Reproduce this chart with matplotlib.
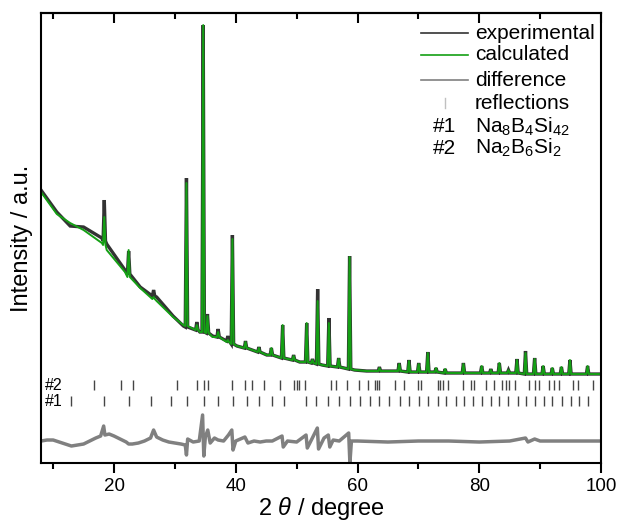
import numpy as np
import matplotlib.pyplot as plt
from matplotlib.ticker import MultipleLocator

plt.rcParams['font.family'] = ['Liberation Sans', 'DejaVu Sans']
plt.rcParams['mathtext.fontset'] = 'custom'
plt.rcParams['mathtext.rm'] = 'Liberation Sans'
plt.rcParams['mathtext.it'] = 'Liberation Sans:italic'

# background knots (2 theta, intensity)
bg_x = [8, 10.6, 12.8, 15.0, 18.0, 18.8, 21.8, 24.3, 27.0, 29.7, 31.4, 34.1,
        36.2, 40.2, 45.1, 50.5, 54.2, 59.5, 61.5, 70.8, 80, 100]
calc_bg = [271, 249, 240, 233, 220, 213, 191, 175, 162, 146, 138, 131,
           126, 117, 108, 101, 98, 93, 92, 91, 90, 89]
obs_bg = [273, 251, 237, 236, 225, 219, 193, 176, 166, 147, 137, 131,
          127, 117, 108, 101, 98, 93, 92, 91, 90, 89]

# peaks: position, base (calc / obs), top (calc / obs)
peak_pos = [18.4, 22.4, 26.5, 31.9, 33.6, 34.65, 35.35, 37.1, 38.7, 39.45,
            41.6, 43.8, 45.85, 47.7, 49.5, 51.65, 52.6, 53.45, 55.3, 56.9,
            58.7, 63.6, 66.85, 68.45, 70.05, 71.55, 72.9, 74.4, 77.4, 80.4,
            81.9, 83.3, 84.8, 86.2, 87.6, 89.1, 90.5, 92.0, 93.5, 94.9, 97.8]
calc_base = [218, 186, 164, 137, 133, 131, 130, 126, 121, 119,
             115, 111, 108, 105, 103, 101, 100, 99, 97, 96,
             94, 92, 92, 91, 91, 91, 91, 90, 90, 90,
             90, 90, 90, 90, 89, 89, 89, 89, 89, 89, 89]
obs_base = [222, 189, 167, 136, 133, 131, 130, 126, 122, 119,
            115, 111, 108, 105, 103, 101, 100, 99, 97, 96,
            94, 92, 92, 91, 91, 91, 91, 90, 90, 90,
            90, 90, 90, 90, 89, 89, 89, 89, 89, 89, 89]
calc_top = [246, 213, 166, 280, 138, 438, 147, 131, 123, 224,
            121, 115, 115, 138, 107, 140, 103, 162, 140, 104,
            206, 95, 99, 102, 99, 110, 95, 94, 99, 97,
            93, 100, 93, 103, 110, 104, 97, 95, 96, 103, 97]
obs_top = [263, 212, 173, 285, 141, 438, 149, 134, 127, 228,
           122, 116, 115, 138, 108, 140, 104, 174, 145, 105,
           207, 96, 100, 103, 100, 111, 95, 94, 100, 97,
           94, 100, 93, 104, 112, 105, 97, 95, 96, 103, 97]
peak_hw = 0.2

# difference curve
diff_x = [8, 9, 10, 11, 12, 13, 14, 15, 16, 17,
          17.8, 18.3, 18.5, 19.2, 20, 21, 22, 22.4, 23, 24,
          25, 26, 26.5, 27, 28, 29, 30, 31, 31.7, 31.9,
          32.1, 33, 34, 34.55, 34.75, 35.0, 35.4, 35.8, 36.5, 37.1,
          38, 38.8, 39.35, 39.55, 40, 41.5, 42, 43, 44, 45,
          46, 47.6, 47.8, 48.5, 50, 51.55, 51.75, 52.5, 53.4, 53.6,
          54.5, 55.2, 55.45, 56, 57, 58.55, 58.75, 59, 60, 65,
          70, 75, 80, 85, 87.6, 88, 89.1, 90, 95, 100]
diff_y = [22, 23, 23, 21, 19, 17, 18, 19, 22, 25,
          27, 37, 28, 29, 27, 24, 21, 19, 19, 20,
          22, 25, 33, 26, 23, 21, 20, 19, 18, 8,
          24, 21, 22, 48, 7, 26, 33, 20, 25, 23,
          22, 28, 33, 13, 22, 26, 20, 22, 21, 22,
          22, 27, 16, 22, 21, 28, 15, 24, 35, 14,
          25, 28, 16, 23, 22, 30, 0, 22, 22, 21,
          22, 22, 21, 22, 25, 21, 24, 22, 22, 22]

# reflection positions
refl_1 = [12.95, 18.4, 22.5, 26.1, 29.3, 32.0, 34.7, 37.15, 39.55, 41.8, 43.8,
          45.9, 47.9, 51.6, 53.2, 55.1, 56.9, 58.7, 60.4, 62.0, 63.6, 65.2,
          66.9, 68.4, 70.1, 71.5, 73.2, 74.5, 76.2, 77.5, 79.0, 80.4, 81.9,
          83.3, 84.8, 86.3, 87.7, 89.2, 90.7, 92.0, 93.6, 95.0, 96.4, 97.8]
refl_2 = [16.7, 21.1, 23.1, 30.3, 33.6, 34.7, 35.4, 39.45, 41.5, 42.7, 44.6,
          47.2, 49.5, 50.0, 50.4, 51.4, 55.6, 56.5, 58.2, 60.2, 61.7, 62.8,
          63.2, 63.6, 66.1, 67.7, 69.9, 70.4, 73.2, 73.5, 74.0, 74.8, 77.3,
          78.6, 79.2, 81.1, 82.5, 83.8, 84.4, 84.9, 85.9, 88.2, 89.2, 89.8,
          91.4, 92.3, 93.1, 95.4, 96.3, 98.7]

legend_labels = ['experimental', 'calculated', 'difference', 'reflections']
legend_colors = ['#333333', '#14a014', '#808080', '#c0c0c0']
phases = [('#1', r'Na$_8$B$_4$Si$_{42}$'), ('#2', r'Na$_2$B$_6$Si$_2$')]


def profile(bg, base, top):
    xs = list(bg_x)
    ys = list(bg)
    for p, b, t in zip(peak_pos, base, top):
        xs += [p - peak_hw, p, p + peak_hw]
        ys += [b, t, b]
    order = np.argsort(xs, kind='stable')
    return np.array(xs)[order], np.array(ys)[order]


obs_x, obs_y = profile(obs_bg, obs_base, obs_top)
calc_x, calc_y = profile(calc_bg, calc_base, calc_top)

fig = plt.figure(figsize=(6.19, 5.22), dpi=100)
ax = fig.add_axes([0.0662, 0.113, 0.9047, 0.862])

ax.plot(obs_x, obs_y, color='#333333', lw=2.4, solid_joinstyle='miter')
ax.plot(calc_x, calc_y, color='#14a014', lw=1.4)
ax.plot(diff_x, diff_y, color='#808080', lw=2.5)
ax.vlines(refl_2, 73, 83, color='#454545', lw=1.0)
ax.vlines(refl_1, 57, 67, color='#454545', lw=1.0)
ax.text(8.6, 78, '#2', fontsize=11.5, va='center', ha='left')
ax.text(8.6, 62, '#1', fontsize=11.5, va='center', ha='left')

ax.set_xlim(8, 100)
ax.set_ylim(0, 450)
ax.xaxis.set_major_locator(MultipleLocator(20))
ax.xaxis.set_minor_locator(MultipleLocator(10))
ax.set_yticks([])
ax.tick_params(axis='x', which='both', direction='out', width=1.5, labelsize=13.5)
ax.tick_params(axis='x', which='major', length=7)
ax.tick_params(axis='x', which='minor', length=4)
for s in ax.spines.values():
    s.set_linewidth(1.5)

top = ax.secondary_xaxis('top')
top.xaxis.set_major_locator(MultipleLocator(20))
top.xaxis.set_minor_locator(MultipleLocator(10))
top.tick_params(axis='x', which='both', direction='in', width=1.5, labeltop=False)
top.tick_params(axis='x', which='major', length=7)
top.tick_params(axis='x', which='minor', length=4)
top.spines['top'].set_linewidth(1.5)

ax.set_xlabel(r'2 $\theta$ / degree', fontsize=17, labelpad=0)
ax.set_ylabel('Intensity / a.u.', fontsize=17, labelpad=6)

# legend, drawn by hand in axes fractions
rows = [0.955, 0.907, 0.851, 0.800]
for lab, col, yy in zip(legend_labels, legend_colors, rows):
    if lab == 'reflections':
        ax.plot([0.721, 0.721], [yy - 0.011, yy + 0.011], color=col, lw=1.0,
                transform=ax.transAxes, clip_on=False)
    else:
        ax.plot([0.679, 0.7625], [yy, yy], color=col, lw=1.2,
                transform=ax.transAxes, clip_on=False)
    ax.text(0.775, yy, lab, transform=ax.transAxes, fontsize=15, va='center')
for (tag, name), yy in zip(phases, [0.747, 0.700]):
    ax.text(0.700, yy, tag, transform=ax.transAxes, fontsize=15, va='center')
    ax.text(0.775, yy, name, transform=ax.transAxes, fontsize=15, va='center')

fig.savefig('out.png', dpi=100)
